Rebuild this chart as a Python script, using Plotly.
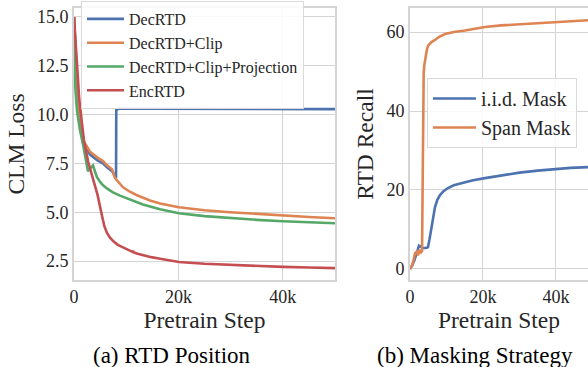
import plotly.graph_objects as go

# ---- Data: (a) RTD Position, CLM loss vs pretrain step ----
dec_steps = [0, 300, 600, 960, 1400, 1720, 2300, 3070, 4500, 5560, 6320, 7280, 7800, 8050, 8100, 8600, 15000, 25000, 35000, 50000]
dec_loss = [15.0, 13.2, 11.4, 10.0, 9.1, 8.55, 8.3, 7.95, 7.65, 7.5, 7.3, 7.1, 6.9, 6.75, 10.25, 10.3, 10.3, 10.29, 10.28, 10.28]

clip_steps = [0, 300, 600, 960, 1400, 1720, 2300, 3070, 4500, 5560, 6320, 7280, 7860, 8600, 9390, 10700, 12070, 14560, 16480, 20100, 25000, 29900, 35000, 40000, 45000, 50000]
clip_loss = [15.0, 13.0, 11.3, 10.0, 9.1, 8.65, 8.45, 8.1, 7.8, 7.62, 7.4, 7.2, 6.75, 6.5, 6.28, 6.05, 5.87, 5.6, 5.45, 5.26, 5.1, 5.0, 4.91, 4.83, 4.76, 4.69]

proj_steps = [0, 250, 575, 900, 1150, 1720, 2300, 2680, 3100, 3640, 4000, 4400, 5000, 5560, 6500, 7470, 8800, 10150, 11700, 13200, 16480, 20100, 25000, 29900, 35000, 40000, 45000, 50000]
proj_loss = [15.0, 11.4, 10.2, 9.6, 9.2, 8.5, 7.6, 7.1, 7.25, 7.4, 7.1, 6.8, 6.55, 6.38, 6.18, 6.02, 5.85, 5.71, 5.55, 5.4, 5.15, 4.95, 4.8, 4.7, 4.61, 4.54, 4.49, 4.44]

enc_steps = [0, 250, 500, 750, 1000, 1500, 1900, 2700, 3640, 4500, 5300, 5800, 6300, 6900, 7600, 8400, 9390, 10300, 11200, 11300, 11450, 12200, 13200, 14800, 16500, 20100, 25000, 29900, 35000, 40000, 45000, 50000]
enc_loss = [15.0, 14.0, 12.8, 11.7, 10.8, 9.6, 8.7, 7.6, 6.7, 5.9, 4.9, 4.3, 3.95, 3.7, 3.5, 3.33, 3.2, 3.07, 2.97, 3.02, 2.94, 2.87, 2.8, 2.7, 2.62, 2.45, 2.36, 2.3, 2.25, 2.2, 2.17, 2.14]

# ---- Data: (b) Masking Strategy, RTD recall vs pretrain step ----
iid_steps = [0, 550, 1200, 1900, 2470, 3000, 3560, 4300, 4930, 5350, 5750, 6300, 6850, 7500, 8220, 9200, 10400, 12000, 14250, 17000, 20550, 25000, 30000, 35000, 40300, 44000, 48800]
iid_recall = [0.0, 0.8, 2.2, 4.0, 5.9, 5.6, 5.3, 5.3, 5.5, 7.5, 9.9, 13.0, 15.7, 17.5, 18.7, 19.7, 20.5, 21.2, 21.8, 22.4, 23.0, 23.7, 24.4, 24.9, 25.4, 25.6, 25.8]

span_steps = [0, 550, 1000, 1370, 1900, 2200, 2600, 3000, 3300, 3450, 3600, 3750, 3900, 4100, 4300, 4600, 4930, 5800, 6850, 8000, 9600, 12000, 15070, 20550, 25000, 30000, 35000, 40300, 44000, 48800]
span_recall = [0.0, 0.8, 2.4, 4.0, 4.4, 3.4, 4.8, 4.2, 4.5, 30.0, 46.0, 49.5, 51.5, 53.0, 54.0, 55.4, 56.5, 57.4, 58.0, 58.8, 59.5, 60.0, 60.4, 61.3, 61.7, 62.0, 62.3, 62.5, 62.8, 63.0]

x_tickvals = [0, 20000, 40000]
x_ticktext = ["0", "20k", "40k"]
loss_ticks = [2.5, 5.0, 7.5, 10.0, 12.5, 15.0]
recall_ticks = [0, 20, 40, 60]

BLUE, ORANGE, GREEN, RED = "#4C72B0", "#DD8452", "#55A868", "#C44E52"
FONT = "Liberation Serif"
GRID = "#d4d4d4"
TXT = "#262626"

fig = go.Figure()
lw = 2.6
fig.add_trace(go.Scatter(x=dec_steps, y=dec_loss, mode="lines", name="DecRTD",
                         line=dict(color=BLUE, width=lw), xaxis="x", yaxis="y", legend="legend"))
fig.add_trace(go.Scatter(x=clip_steps, y=clip_loss, mode="lines", name="DecRTD+Clip",
                         line=dict(color=ORANGE, width=lw), xaxis="x", yaxis="y", legend="legend"))
fig.add_trace(go.Scatter(x=proj_steps, y=proj_loss, mode="lines", name="DecRTD+Clip+Projection",
                         line=dict(color=GREEN, width=lw), xaxis="x", yaxis="y", legend="legend"))
fig.add_trace(go.Scatter(x=enc_steps, y=enc_loss, mode="lines", name="EncRTD",
                         line=dict(color=RED, width=lw), xaxis="x", yaxis="y", legend="legend"))

fig.add_trace(go.Scatter(x=iid_steps, y=iid_recall, mode="lines", name="i.i.d. Mask",
                         line=dict(color=BLUE, width=lw), xaxis="x2", yaxis="y2", legend="legend2"))
fig.add_trace(go.Scatter(x=span_steps, y=span_recall, mode="lines", name="Span Mask",
                         line=dict(color=ORANGE, width=lw), xaxis="x2", yaxis="y2", legend="legend2"))

axis_common = dict(showgrid=True, gridcolor=GRID, gridwidth=1.4, showline=True, mirror=True,
                   linecolor=GRID, linewidth=1.6, zeroline=False, ticks="", automargin=False,
                   tickfont=dict(family=FONT, size=18, color=TXT))
title_font = dict(family=FONT, size=23.5, color=TXT)

fig.update_layout(
    width=588, height=367,
    margin=dict(l=0, r=0, t=0, b=0, autoexpand=False),
    paper_bgcolor="white", plot_bgcolor="white",
    font=dict(family=FONT, color=TXT),
    xaxis=dict(domain=[74/588, 335/588], range=[0, 50000], tickvals=x_tickvals, ticktext=x_ticktext,
               title=dict(text="Pretrain Step", font=title_font, standoff=0),
               anchor="y", **axis_common),
    yaxis=dict(domain=[1-280/367, 1-8/367], range=[1.53, 15.46], tickvals=loss_ticks, tickformat=".1f",
               title=dict(text="CLM Loss", font=title_font, standoff=6),
               anchor="x", **axis_common),
    xaxis2=dict(domain=[410/588, 1.0], range=[0, 48800], tickvals=x_tickvals, ticktext=x_ticktext,
                title=dict(text="Pretrain Step", font=title_font, standoff=0),
                anchor="y2", **axis_common),
    yaxis2=dict(domain=[1-280/367, 1-8/367], range=[-2.8, 66.1], tickvals=recall_ticks,
                title=dict(text="RTD Recall", font=title_font, standoff=6),
                anchor="x2", **axis_common),
    legend=dict(x=81/588, y=1-1/367, xanchor="left", yanchor="top", itemwidth=37,
                bgcolor="rgba(255,255,255,0.85)", bordercolor="#d9d9d9", borderwidth=1,
                font=dict(family=FONT, size=16, color=TXT), tracegroupgap=0),
    legend2=dict(x=427/588, y=1-78/367, xanchor="left", yanchor="top", itemwidth=43,
                 bgcolor="rgba(255,255,255,0.85)", bordercolor="#d9d9d9", borderwidth=1,
                 font=dict(family=FONT, size=20, color=TXT), tracegroupgap=0),
    showlegend=True,
    annotations=[
        dict(text="(a) RTD Position", x=172/588, y=1-355/367, xref="paper", yref="paper",
             xanchor="center", yanchor="middle", showarrow=False,
             font=dict(family=FONT, size=23, color="black")),
        dict(text="(b) Masking Strategy", x=475/588, y=1-355/367, xref="paper", yref="paper",
             xanchor="center", yanchor="middle", showarrow=False,
             font=dict(family=FONT, size=23, color="black")),
    ],
)

fig.write_html("out.html")
